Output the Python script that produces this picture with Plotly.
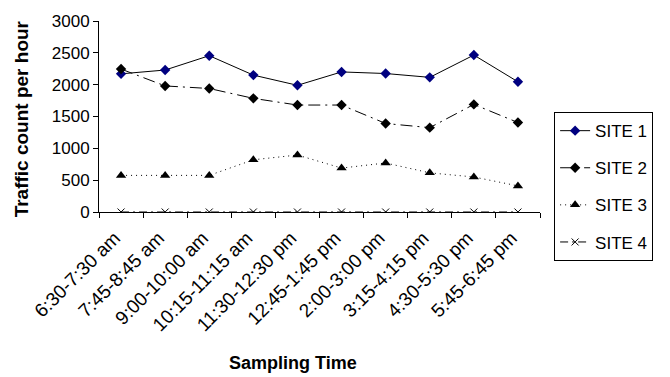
import plotly.graph_objects as go

categories = ["6:30-7:30 am", "7:45-8:45 am", "9:00-10:00 am", "10:15-11:15 am",
              "11:30-12:30 pm", "12:45-1:45 pm", "2:00-3:00 pm", "3:15-4:15 pm",
              "4:30-5:30 pm", "5:45-6:45 pm"]
site1 = [2170, 2230, 2455, 2150, 1990, 2200, 2175, 2115, 2465, 2045]
site2 = [2245, 1980, 1940, 1785, 1680, 1680, 1390, 1325, 1690, 1405]
site3 = [575, 575, 575, 820, 895, 690, 770, 615, 550, 410]
site4 = [0, 0, 0, 0, 0, 0, 0, 0, 0, 0]
y_ticks = [0, 500, 1000, 1500, 2000, 2500, 3000]

FONT = "Liberation Sans, Arial, sans-serif"

fig = go.Figure()
fig.add_trace(go.Scatter(x=categories, y=site1, name="SITE 1", mode="lines+markers",
                         legendgroup="g1",
                         line=dict(color="black", width=1, dash="solid"),
                         marker=dict(symbol="diamond", size=8, color="#000080")))
fig.add_trace(go.Scatter(x=categories, y=site2, name="SITE 2", mode="lines+markers",
                         legendgroup="g2",
                         line=dict(color="black", width=1, dash="12px,5px,2px,5px"),
                         marker=dict(symbol="diamond", size=8, color="black")))
fig.add_trace(go.Scatter(x=categories, y=site3, name="SITE 3", mode="lines+markers",
                         legendgroup="g3",
                         line=dict(color="black", width=1, dash="1px,4px"),
                         marker=dict(symbol="triangle-up", size=9, color="black")))
fig.add_trace(go.Scatter(x=categories, y=site4, name="SITE 4", mode="lines+markers",
                         legendgroup="g4",
                         line=dict(color="black", width=1, dash="8px,4px,2px,4px"),
                         marker=dict(symbol="x-thin-open", size=7,
                                     line=dict(color="black", width=1), color="black")))

fig.update_layout(
    width=670, height=377,
    margin=dict(l=99, r=130, t=17, b=165),
    paper_bgcolor="white", plot_bgcolor="white",
    font=dict(family=FONT, size=17, color="black"),
    showlegend=True,
    legend=dict(x=1.032, y=0.523, xanchor="left", yanchor="top",
                bordercolor="black", borderwidth=1, bgcolor="white",
                font=dict(family=FONT, size=17, color="black"),
                tracegroupgap=12, traceorder="grouped"),
    xaxis=dict(range=[-0.5, 9.5], showgrid=False, showline=True, linecolor="black",
               linewidth=1, ticks="outside", tickson="boundaries", ticklen=5,
               tickcolor="black", tickangle=-45, zeroline=False,
               ticksuffix="\u00a0\u2009",
               tickfont=dict(family=FONT, size=19)),
    yaxis=dict(range=[0, 3000], tickvals=y_ticks, showgrid=False, showline=True,
               linecolor="black", linewidth=1, ticks="outside", ticklen=5,
               tickcolor="black", zeroline=False, ticksuffix="\u00a0\u2009",
               tickfont=dict(family=FONT, size=17)),
    annotations=[
        dict(text="<b>Sampling Time</b>", xref="paper", yref="paper",
             x=0.44, y=-0.79, xanchor="center", yanchor="middle",
             showarrow=False, font=dict(family=FONT, size=18)),
        dict(text="<b>Traffic count per hour</b>", xref="paper", yref="paper",
             x=-0.177, y=0.49, xanchor="center", yanchor="middle", textangle=-90,
             showarrow=False, font=dict(family=FONT, size=19)),
    ],
)

fig.write_html("out.html")
